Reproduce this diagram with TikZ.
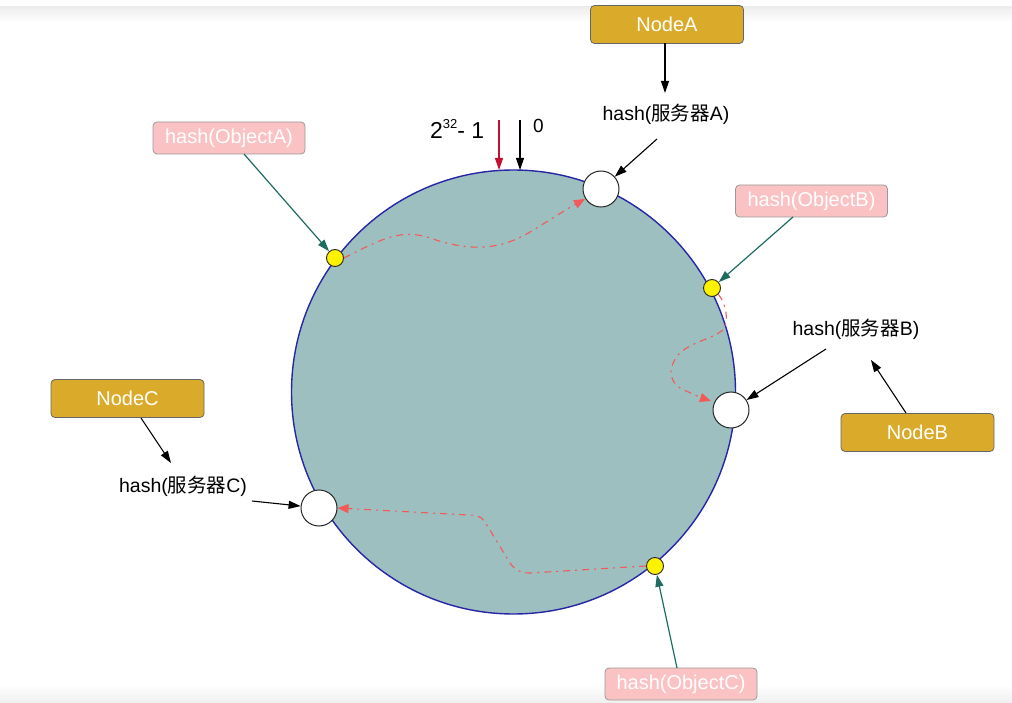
\documentclass[tikz,border=0pt]{standalone}
\usepackage{fontspec}
\setmainfont{Liberation Sans}
\newfontfamily\cjk{Noto Sans CJK SC}
\usetikzlibrary{arrows.meta}
\definecolor{ringfill}{HTML}{9DBFBF}
\definecolor{ringline}{HTML}{2626A6}
\definecolor{gold}{HTML}{DAAA2A}
\definecolor{pinkbox}{HTML}{FBC2C4}
\definecolor{tealarrow}{HTML}{1E6B60}
\definecolor{reddash}{HTML}{F25A5A}
\definecolor{redarrow}{HTML}{C4102E}
\begin{document}
\begin{tikzpicture}[x=1pt,y=-1pt,
  txt/.style={font=\fontsize{19}{22}\selectfont},
  nodebox/.style={draw=gray!80!black, line width=0.8pt, fill=gold, rounded corners=4pt, text=white, minimum width=153pt, minimum height=38pt, inner sep=0pt, font=\fontsize{20}{22}\selectfont},
  objbox/.style={draw=gray!80, line width=0.8pt, fill=pinkbox, rounded corners=4pt, text=white, minimum width=152pt, minimum height=32pt, inner sep=0pt, font=\fontsize{20}{22}\selectfont},
  hashlabel/.style={font=\fontsize{19.5}{22}\selectfont, inner sep=2pt},
  server/.style={circle, draw=black!85, line width=1pt, fill=white, minimum size=36pt, inner sep=0pt},
  obj/.style={circle, draw=black!85, line width=0.9pt, fill=yellow, minimum size=17pt, inner sep=0pt},
  blk/.style={-{Triangle[length=12pt,width=8pt]}, line width=1.1pt, black},
  teal/.style={-{Triangle[length=12pt,width=8pt]}, line width=1.2pt, tealarrow},
  migrate/.style={-{Triangle[length=11pt,width=9pt]}, reddash, line width=1.1pt, dash pattern=on 7pt off 5pt on 2pt off 5pt}
]
\useasboundingbox (0,0) rectangle (1012,703);
% screenshot shading bands
\shade[top color=black!7, bottom color=white] (0,7) rectangle (1012,22);
\shade[top color=white, bottom color=black!6] (0,684) rectangle (1012,703);

% ring
\node[circle, draw=ringline, line width=1.4pt, fill=ringfill, minimum size=444pt, inner sep=0pt] (ring) at (513.5,392) {};

% top markers
\node[anchor=base west, inner sep=0pt, font=\fontsize{23}{26}\selectfont] (max) at (430,139) {2\raisebox{10pt}{\fontsize{13}{13}\selectfont 32}- 1};
\node[anchor=base west, inner sep=0pt, font=\fontsize{19}{22}\selectfont] (zero) at (533,133) {0};
\coordinate (redtop) at (499,120);
\coordinate (redbot) at (499,170);
\coordinate (blktop) at (520,120);
\coordinate (blkbot) at (520,170);
\draw[-{Triangle[length=12pt,width=8pt]}, line width=1.1pt, redarrow] (redtop) -- (redbot);
\draw[blk] (blktop) -- (blkbot);

% servers and objects on the ring
\node[server] (sA) at (601,189) {};
\node[server] (sB) at (731,410) {};
\node[server] (sC) at (319,508) {};
\node[obj] (oA) at (335,258) {};
\node[obj] (oB) at (712,288) {};
\node[obj] (oC) at (655,566) {};

% boxes
\node[nodebox] (NA) at (667,24.5) {NodeA};
\node[nodebox] (NB) at (917.5,432.5) {NodeB};
\node[nodebox] (NC) at (127.5,398.5) {NodeC};
\node[objbox] (bA) at (229,138) {hash(ObjectA)};
\node[objbox] (bB) at (811.5,201) {hash(ObjectB)};
\node[objbox] (bC) at (681,684) {hash(ObjectC)};

% hash labels
\node[hashlabel] (hA) at (666,114) {hash({\cjk 服务器}A)};
\node[hashlabel] (hB) at (856,329) {hash({\cjk 服务器}B)};
\node[hashlabel] (hC) at (183,486) {hash({\cjk 服务器}C)};

% black arrows
\coordinate (NAs) at (665,43);
\coordinate (hAe) at (665,93);
\draw[blk] (NAs) -- (hAe);
\coordinate (hAs) at (657,139);
\draw[blk] (hAs) -- (sA);
\coordinate (NBs) at (906,413);
\coordinate (hBe) at (871,360);
\draw[blk] (NBs) -- (hBe);
\coordinate (hBs) at (826,349);
\draw[blk] (hBs) -- (sB);
\coordinate (NCs) at (141,418);
\coordinate (hCe) at (171,463);
\draw[blk] (NCs) -- (hCe);
\coordinate (hCs) at (252,501);
\draw[blk] (hCs) -- (sC);

% teal arrows
\coordinate (bAs) at (244,154);
\draw[teal] (bAs) -- (oA);
\coordinate (bBs) at (793,217);
\draw[teal] (bBs) -- (oB);
\coordinate (bCs) at (677,668);
\draw[teal] (bCs) -- (oC);

% migration paths
\draw[migrate] (oA.east) .. controls (380,240) and (400,228) .. (430,238)
  .. controls (470,252) and (500,250) .. (530,232)
  .. controls (550,220) and (565,210) .. (585,199);
\draw[migrate] (oB.south east) .. controls (725,302) and (730,320) .. (723,330)
  .. controls (710,340) and (690,342) .. (678,355)
  .. controls (665,372) and (672,385) .. (684,390)
  .. controls (695,395) and (702,398) .. (711,401);
\draw[migrate] (oC.west) -- (530,573) .. controls (520,573) and (515,570) .. (510,563)
  -- (485,522) .. controls (480,515) and (475,515) .. (468,515)
  -- (sC.east);
\end{tikzpicture}
\end{document}
